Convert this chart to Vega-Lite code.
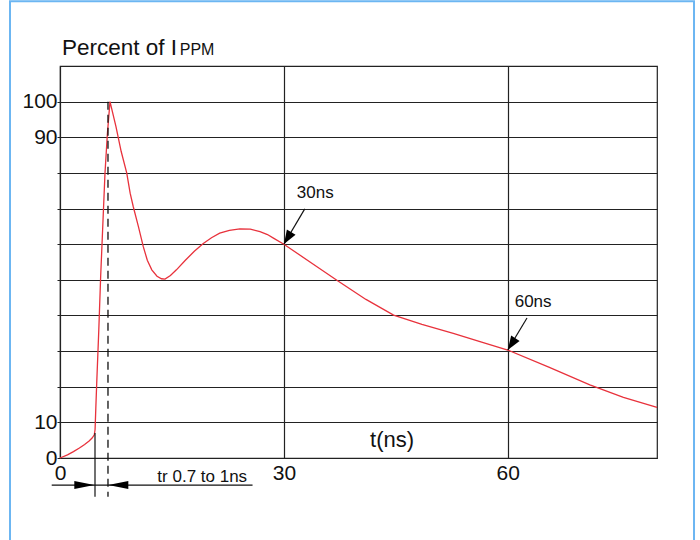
{
  "$schema": "https://vega.github.io/schema/vega-lite/v6.json",
  "width": 597,
  "height": 392,
  "autosize": {"type": "none"},
  "padding": {"left": 60, "top": 66, "right": 43, "bottom": 82},
  "background": "white",
  "config": {
    "font": "Liberation Sans",
    "view": {"stroke": "#222", "strokeWidth": 1.2},
    "axis": {"labelFont": "Liberation Sans", "labelColor": "#111", "title": null}
  },
  "datasets": {
    "curve": [
      {"t": 0, "v": 0}, {"t": 1, "v": 0.9}, {"t": 1.8, "v": 1.8}, {"t": 2.6, "v": 2.8},
      {"t": 3.3, "v": 3.8}, {"t": 3.9, "v": 4.8}, {"t": 4.3, "v": 5.6}, {"t": 4.6, "v": 6.5},
      {"t": 4.7, "v": 8}, {"t": 4.8, "v": 14}, {"t": 4.92, "v": 21}, {"t": 5.2, "v": 36},
      {"t": 5.45, "v": 51}, {"t": 5.75, "v": 66}, {"t": 6.03, "v": 80}, {"t": 6.35, "v": 91},
      {"t": 6.7, "v": 100}, {"t": 7.5, "v": 93}, {"t": 8.2, "v": 86}, {"t": 8.94, "v": 80},
      {"t": 9.4, "v": 74.3}, {"t": 9.82, "v": 70.5}, {"t": 10.5, "v": 65}, {"t": 11.16, "v": 59.3},
      {"t": 11.7, "v": 55.5}, {"t": 12.3, "v": 52.8}, {"t": 13.0, "v": 51}, {"t": 13.6, "v": 50.3},
      {"t": 14.07, "v": 50.2}, {"t": 14.8, "v": 51.2}, {"t": 15.6, "v": 52.8}, {"t": 16.8, "v": 55.5},
      {"t": 18, "v": 58}, {"t": 19.2, "v": 60.2}, {"t": 20.3, "v": 61.8}, {"t": 21.4, "v": 63.1},
      {"t": 22.7, "v": 63.9}, {"t": 24.1, "v": 64.3}, {"t": 25.5, "v": 64.2}, {"t": 26.8, "v": 63.5},
      {"t": 27.8, "v": 62.7}, {"t": 28.6, "v": 61.7}, {"t": 30, "v": 60}, {"t": 33.5, "v": 55},
      {"t": 37.1, "v": 49.9}, {"t": 41, "v": 44.5}, {"t": 44.7, "v": 40.1}, {"t": 48.5, "v": 37.5},
      {"t": 52.7, "v": 35}, {"t": 56.5, "v": 32.5}, {"t": 60, "v": 30.3}, {"t": 65.5, "v": 25.5},
      {"t": 71.0, "v": 20.5}, {"t": 75.5, "v": 17}, {"t": 80, "v": 14.2}
    ],
    "lines": [
      {"t": 4.69, "t2": 4.69, "v": 7, "v2": -10.9},
      {"t": -1.11, "t2": 25.8, "v": -7.6, "v2": -7.6},
      {"t": 32.8, "t2": 30, "v": 69.9, "v2": 60},
      {"t": 62.58, "t2": 60, "v": 39.3, "v2": 30.3}
    ]
  },
  "encoding": {
    "x": {
      "field": "t", "type": "quantitative",
      "scale": {"domain": [0, 80], "nice": false, "zero": false},
      "axis": {
        "values": [0, 30, 60], "grid": true, "gridColor": "#222", "gridOpacity": 1, "gridWidth": 1.2,
        "ticks": false, "domain": false, "labelFontSize": 21, "labelPadding": 4,
        "labelFlush": false, "labelOverlap": false
      }
    },
    "y": {
      "field": "v", "type": "quantitative",
      "scale": {"domain": [0, 110], "nice": false, "zero": false},
      "axis": {
        "values": [0, 10, 20, 30, 40, 50, 60, 70, 80, 90, 100],
        "labelExpr": "indexof([0, 10, 90, 100], datum.value) >= 0 ? datum.label : ''",
        "grid": true, "gridColor": "#222", "gridOpacity": 1, "gridWidth": 1.2,
        "ticks": true, "tickSize": 3, "tickColor": "#222", "domain": false,
        "labelFontSize": 21, "labelPadding": 0, "labelFlush": false, "labelOverlap": false
      }
    }
  },
  "layer": [
    {
      "data": {"name": "curve"},
      "mark": {"type": "line", "color": "#e8323c", "strokeWidth": 1.3, "clip": false}
    },
    {
      "data": {"values": [{"t": -6.7, "t2": 84.96, "v": 128.2, "v2": -40}]},
      "mark": {"type": "rect", "fill": null, "stroke": "#6cb6f2", "strokeWidth": 2, "clip": false},
      "encoding": {"x2": {"field": "t2"}, "y2": {"field": "v2"}}
    },
    {
      "data": {"values": [{"t": 6.43, "v": 100, "v2": -10.9}]},
      "mark": {"type": "rule", "color": "#111", "strokeWidth": 1.3, "strokeDash": [8, 5], "clip": false},
      "encoding": {"y2": {"field": "v2"}}
    },
    {
      "data": {"name": "lines"},
      "mark": {"type": "rule", "color": "#111", "strokeWidth": 1.2, "clip": false},
      "encoding": {"x2": {"field": "t2"}, "y2": {"field": "v2"}}
    },
    {
      "data": {"values": [{"t": 30.5, "v": 61.7}]},
      "mark": {"type": "point", "shape": "M-1,-0.72L1,0L-1,0.72Z", "size": 196, "angle": 121, "filled": true, "color": "#000", "opacity": 1, "clip": false}
    },
    {
      "data": {"values": [{"t": 60.51, "v": 31.95}]},
      "mark": {"type": "point", "shape": "M-1,-0.72L1,0L-1,0.72Z", "size": 196, "angle": 123, "filled": true, "color": "#000", "opacity": 1, "clip": false}
    },
    {
      "data": {"values": [{"t": 3.26, "v": -7.6}]},
      "mark": {"type": "point", "shape": "M-1,-0.4L1,0L-1,0.4Z", "size": 400, "angle": 0, "filled": true, "color": "#000", "opacity": 1, "clip": false}
    },
    {
      "data": {"values": [{"t": 7.81, "v": -7.6}]},
      "mark": {"type": "point", "shape": "M-1,-0.4L1,0L-1,0.4Z", "size": 400, "angle": 180, "filled": true, "color": "#000", "opacity": 1, "clip": false}
    },
    {
      "data": {"values": [{"label": "30ns", "t": 34.2, "v": 74.4}, {"label": "60ns", "t": 63.4, "v": 43.8}, {"label": "tr 0.7 to 1ns", "t": 19.06, "v": -5.2}]},
      "mark": {"type": "text", "fontSize": 17, "color": "#111", "align": "center", "baseline": "middle", "clip": false},
      "encoding": {"text": {"field": "label"}}
    },
    {
      "data": {"values": [{"label": "t(ns)", "t": 44.5, "v": 5.0}]},
      "mark": {"type": "text", "fontSize": 22, "color": "#111", "align": "center", "baseline": "middle", "clip": false},
      "encoding": {"text": {"field": "label"}}
    },
    {
      "data": {"values": [{"label": "Percent of I", "t": 0.27, "v": 113.09}]},
      "mark": {"type": "text", "fontSize": 22.5, "color": "#111", "align": "left", "baseline": "alphabetic", "clip": false},
      "encoding": {"text": {"field": "label"}}
    },
    {
      "data": {"values": [{"label": "PPM", "t": 16.05, "v": 113.09}]},
      "mark": {"type": "text", "fontSize": 16, "color": "#111", "align": "left", "baseline": "alphabetic", "clip": false},
      "encoding": {"text": {"field": "label"}}
    }
  ]
}
